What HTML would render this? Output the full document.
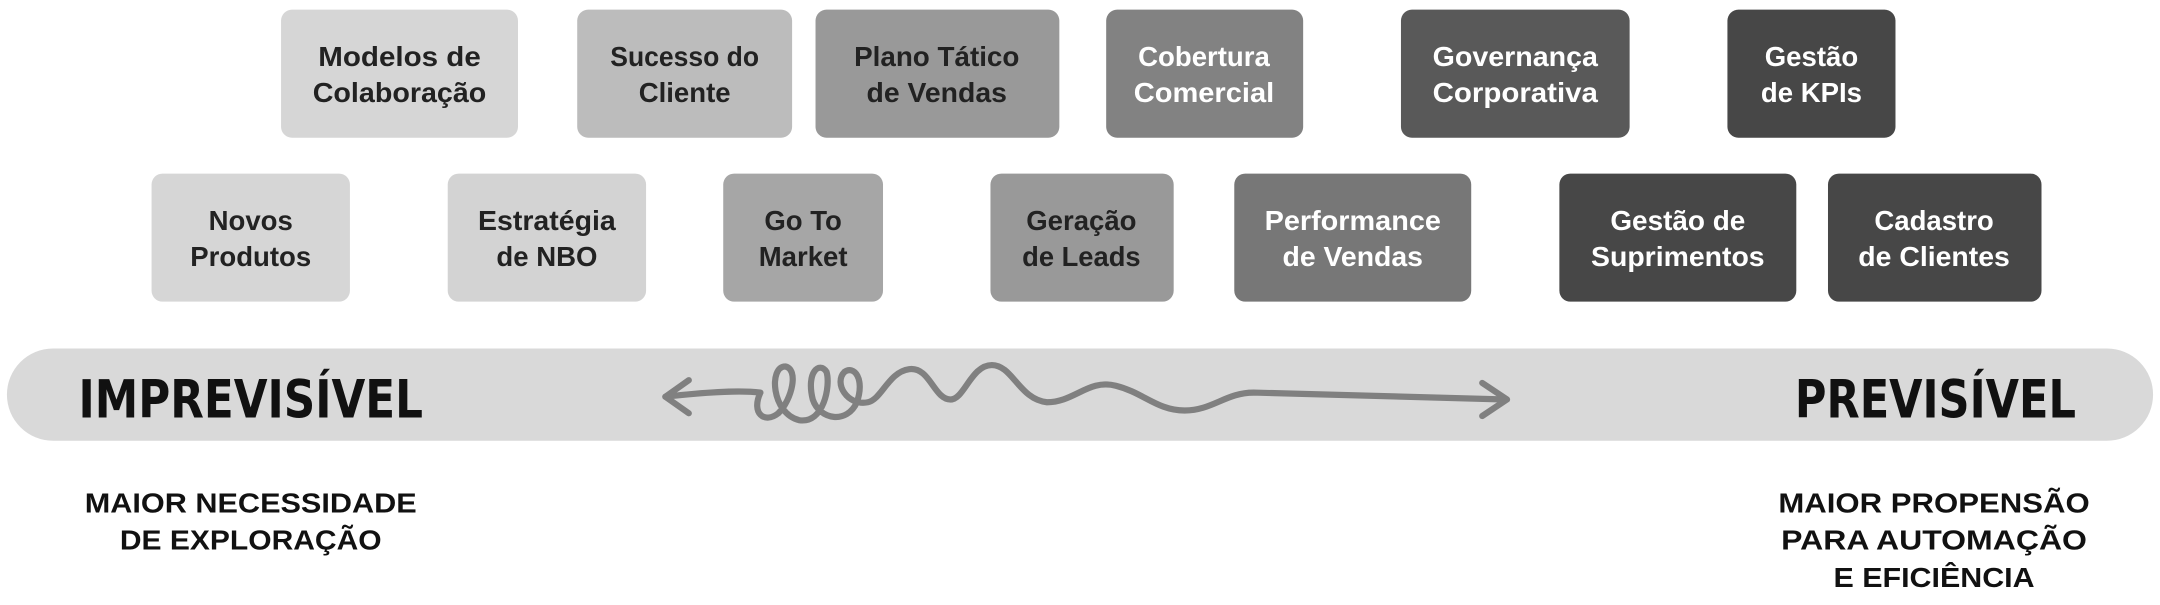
<!DOCTYPE html>
<html><head><meta charset="utf-8"><style>
html,body{margin:0;padding:0;background:#fff;}
svg{display:block;}
text{font-family:"Liberation Sans",sans-serif;}
.b{font-size:20px;font-weight:bold;text-anchor:middle;}
.d{fill:#222;}
.w{fill:#fff;}
.f{font-size:20px;font-weight:bold;text-anchor:middle;fill:#111;}
</style></head><body>
<svg width="2160" height="605" viewBox="0 0 1568 439.2" xmlns="http://www.w3.org/2000/svg">
<rect width="1568" height="440" fill="#fff"/>
<!-- row 1 -->
<rect x="204" y="7" width="172" height="93" rx="8" fill="#d6d6d6"/>
<text class="b d" x="290" y="48" textLength="118" lengthAdjust="spacingAndGlyphs">Modelos de</text>
<text class="b d" x="290" y="74" textLength="126" lengthAdjust="spacingAndGlyphs">Colaboração</text>
<rect x="419" y="7" width="156" height="93" rx="8" fill="#bcbcbc"/>
<text class="b d" x="497" y="48" textLength="108" lengthAdjust="spacingAndGlyphs">Sucesso do</text>
<text class="b d" x="497" y="74">Cliente</text>
<rect x="592" y="7" width="177" height="93" rx="8" fill="#999"/>
<text class="b d" x="680" y="48" textLength="120" lengthAdjust="spacingAndGlyphs">Plano Tático</text>
<text class="b d" x="680" y="74" textLength="102" lengthAdjust="spacingAndGlyphs">de Vendas</text>
<rect x="803" y="7" width="143" height="93" rx="8" fill="#828282"/>
<text class="b w" x="874" y="48">Cobertura</text>
<text class="b w" x="874" y="74" textLength="102" lengthAdjust="spacingAndGlyphs">Comercial</text>
<rect x="1017" y="7" width="166" height="93" rx="8" fill="#595959"/>
<text class="b w" x="1100" y="48" textLength="120" lengthAdjust="spacingAndGlyphs">Governança</text>
<text class="b w" x="1100" y="74" textLength="120" lengthAdjust="spacingAndGlyphs">Corporativa</text>
<rect x="1254" y="7" width="122" height="93" rx="8" fill="#474747"/>
<text class="b w" x="1315" y="48">Gestão</text>
<text class="b w" x="1315" y="74">de KPIs</text>
<!-- row 2 -->
<rect x="110" y="126" width="144" height="93" rx="8" fill="#d6d6d6"/>
<text class="b d" x="182" y="167">Novos</text>
<text class="b d" x="182" y="193">Produtos</text>
<rect x="325" y="126" width="144" height="93" rx="8" fill="#d3d3d3"/>
<text class="b d" x="397" y="167" textLength="100" lengthAdjust="spacingAndGlyphs">Estratégia</text>
<text class="b d" x="397" y="193">de NBO</text>
<rect x="525" y="126" width="116" height="93" rx="8" fill="#a6a6a6"/>
<text class="b d" x="583" y="167">Go To</text>
<text class="b d" x="583" y="193">Market</text>
<rect x="719" y="126" width="133" height="93" rx="8" fill="#999"/>
<text class="b d" x="785" y="167">Geração</text>
<text class="b d" x="785" y="193" textLength="86" lengthAdjust="spacingAndGlyphs">de Leads</text>
<rect x="896" y="126" width="172" height="93" rx="8" fill="#777"/>
<text class="b w" x="982" y="167" textLength="128" lengthAdjust="spacingAndGlyphs">Performance</text>
<text class="b w" x="982" y="193" textLength="102" lengthAdjust="spacingAndGlyphs">de Vendas</text>
<rect x="1132" y="126" width="172" height="93" rx="8" fill="#474747"/>
<text class="b w" x="1218" y="167" textLength="98" lengthAdjust="spacingAndGlyphs">Gestão de</text>
<text class="b w" x="1218" y="193" textLength="126" lengthAdjust="spacingAndGlyphs">Suprimentos</text>
<rect x="1327" y="126" width="155" height="93" rx="8" fill="#474747"/>
<text class="b w" x="1404" y="167">Cadastro</text>
<text class="b w" x="1404" y="193" textLength="110" lengthAdjust="spacingAndGlyphs">de Clientes</text>
<!-- bar -->
<rect x="5" y="253" width="1558" height="67" rx="33.5" fill="#d9d9d9"/>
<text x="57" y="303" font-size="38" font-weight="bold" fill="#111" textLength="250" lengthAdjust="spacingAndGlyphs" style="font-family:'DejaVu Sans',sans-serif;font-weight:bold">IMPREVISÍVEL</text>
<text x="1303" y="303" font-size="38" font-weight="bold" fill="#111" textLength="204" lengthAdjust="spacingAndGlyphs" style="font-family:'DejaVu Sans',sans-serif;font-weight:bold">PREVISÍVEL</text>
<g fill="none" stroke="#808080" stroke-width="4.5" stroke-linecap="round" stroke-linejoin="round">
<path d="M483,288 C510,285 535,283 552,285 C545,300 555,308 565,300 C575,290 580,268 570,266 C558,266 560,300 580,305 C598,308 603,280 600,270 C595,262 585,270 590,290 C595,305 615,308 622,292 C628,275 620,265 613,270 C605,278 615,295 630,292 C640,290 645,270 660,268 C675,266 678,290 690,290 C700,290 705,265 720,265 C735,265 740,290 760,292 C780,292 790,275 810,280 C830,285 840,298 860,298 C880,298 890,285 910,285 L1093,290"/>
<path d="M500,276 L483,288 L500,300"/>
<path d="M1076,278 L1094,290 L1076,302"/>
</g>
<!-- bottom -->
<text class="f" x="182" y="372" textLength="241" lengthAdjust="spacingAndGlyphs">MAIOR NECESSIDADE</text>
<text class="f" x="182" y="399" textLength="190" lengthAdjust="spacingAndGlyphs">DE EXPLORAÇÃO</text>
<text class="f" x="1404" y="372" textLength="226" lengthAdjust="spacingAndGlyphs">MAIOR PROPENSÃO</text>
<text class="f" x="1404" y="399" textLength="222" lengthAdjust="spacingAndGlyphs">PARA AUTOMAÇÃO</text>
<text class="f" x="1404" y="426" textLength="146" lengthAdjust="spacingAndGlyphs">E EFICIÊNCIA</text>
</svg>
</body></html>
